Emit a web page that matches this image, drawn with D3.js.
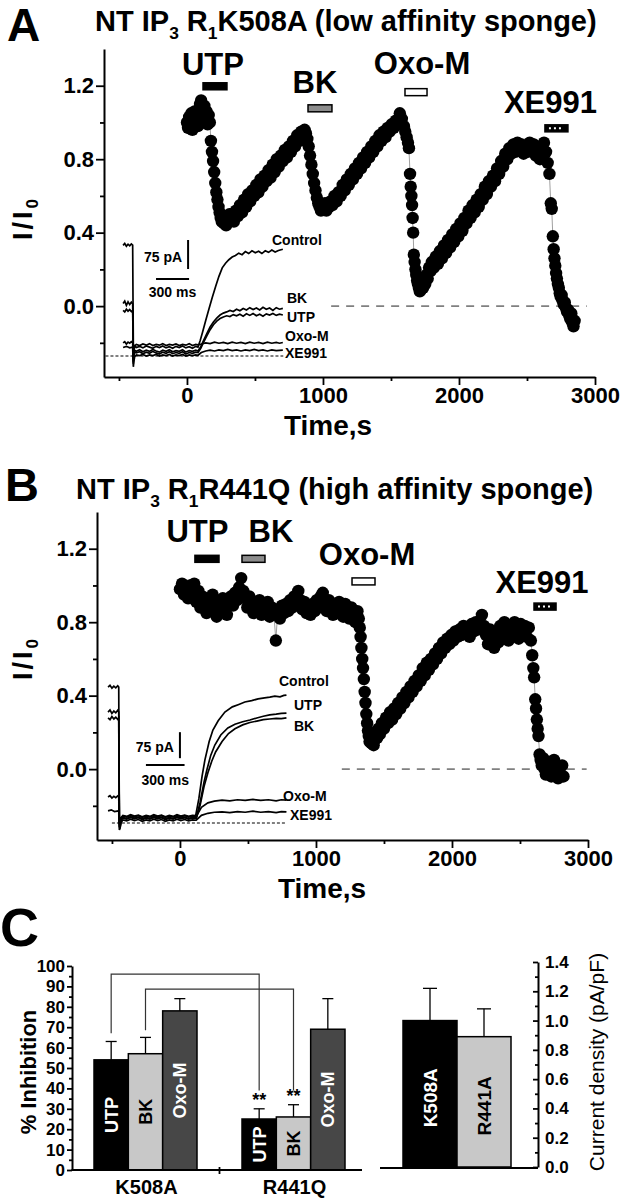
<!DOCTYPE html>
<html>
<head>
<meta charset="utf-8">
<script src="https://cdn.jsdelivr.net/npm/d3@7/dist/d3.min.js"></script>
<style>
html,body{margin:0;padding:0;background:#fff;}
svg{display:block;}
text{font-family:"Liberation Sans",Arial,Helvetica,sans-serif;font-weight:bold;fill:#000;}
</style>
</head>
<body>
<svg id="fig" width="625" height="1199"></svg>
<script>
// ---------------- DATA ----------------
// Panel A: normalized M-current I/I0 vs time (s)
const seriesA = [
[0,1.00],[8,0.97],[16,1.03],[24,0.99],[32,1.05],[40,0.96],[48,1.02],[56,1.06],[64,1.00],[72,1.04],[80,0.98],[88,1.07],[96,1.10],[104,1.12],[112,1.08],[120,1.05],[128,1.09],[136,1.02],[144,1.06],[152,0.99],[160,1.04],[168,1.00],
[176,0.90],[184,0.84],[192,0.79],[200,0.73],[208,0.67],[216,0.62],[224,0.58],[232,0.54],[240,0.51],[248,0.48],[256,0.46],[264,0.49],[272,0.45],[280,0.47],[288,0.44],[296,0.48],[304,0.46],[312,0.50],[320,0.47],
[330,0.50],[345,0.46],[360,0.52],[375,0.49],[390,0.55],[405,0.51],[420,0.58],[435,0.54],[450,0.61],[465,0.57],[480,0.63],[495,0.60],[510,0.66],[525,0.62],[540,0.69],[555,0.65],[570,0.71],[585,0.68],[600,0.74],[615,0.70],[630,0.77],[645,0.73],[660,0.80],[675,0.76],[690,0.82],[705,0.79],[720,0.85],[735,0.81],[750,0.87],[765,0.84],[780,0.90],[795,0.87],[810,0.93],[825,0.90],[840,0.95],[855,0.93],
[865,0.96],[875,0.94],[885,0.91],[895,0.87],[905,0.82],[915,0.77],[925,0.72],[935,0.67],[945,0.63],[955,0.59],[965,0.56],[975,0.54],[985,0.52],[995,0.55],[1005,0.53],[1015,0.56],[1025,0.52],[1035,0.55],[1045,0.54],
[1055,0.57],[1070,0.55],[1085,0.60],[1100,0.57],[1115,0.62],[1130,0.60],[1145,0.66],[1160,0.63],[1175,0.69],[1190,0.66],[1205,0.72],[1220,0.69],[1235,0.75],[1250,0.72],[1265,0.78],[1280,0.75],[1295,0.81],[1310,0.78],[1325,0.84],[1340,0.81],[1355,0.87],[1370,0.84],[1385,0.90],[1400,0.87],[1415,0.93],[1430,0.90],[1445,0.95],[1460,0.92],[1475,0.97],[1490,0.95],[1505,0.99],[1520,0.97],[1535,1.01],[1550,0.99],[1565,1.05],[1580,1.02],[1595,0.98],[1605,0.95],[1615,0.92],[1625,0.89],[1632,0.86],
[1640,0.72],[1645,0.65],[1650,0.60],[1655,0.55],[1659,0.48],[1663,0.40],[1668,0.28],[1674,0.24],[1680,0.20],[1686,0.17],[1692,0.14],[1698,0.12],[1705,0.10],[1712,0.08],[1720,0.09],[1728,0.12],[1736,0.10],[1744,0.14],[1752,0.12],[1760,0.17],[1770,0.15],[1780,0.21],[1790,0.19],
[1800,0.24],[1815,0.21],[1830,0.27],[1845,0.23],[1860,0.30],[1875,0.26],[1890,0.33],[1905,0.29],[1920,0.36],[1935,0.32],[1950,0.39],[1965,0.35],[1980,0.42],[1995,0.38],[2010,0.45],[2025,0.41],[2040,0.48],[2055,0.45],[2070,0.52],[2085,0.48],[2100,0.55],[2115,0.51],[2130,0.58],[2145,0.54],[2160,0.61],[2175,0.58],[2190,0.65],[2205,0.61],[2220,0.68],[2235,0.65],[2250,0.71],[2265,0.68],[2280,0.75],[2295,0.72],[2310,0.79],[2325,0.76],[2340,0.83],[2355,0.80],[2370,0.86],[2385,0.83],
[2400,0.88],[2415,0.84],[2430,0.89],[2445,0.85],[2460,0.88],[2475,0.83],[2490,0.87],[2505,0.84],[2520,0.89],[2535,0.85],[2550,0.88],[2565,0.82],[2580,0.86],[2595,0.80],[2610,0.87],[2625,0.89],[2640,0.84],[2652,0.78],
[2665,0.72],[2675,0.56],[2682,0.53],[2690,0.38],[2696,0.31],[2702,0.26],[2708,0.22],[2714,0.18],[2720,0.15],[2727,0.12],[2734,0.10],[2741,0.07],[2748,0.05],[2755,0.06],[2762,0.03],[2770,0.01],[2778,0.02],[2786,-0.01],[2794,-0.03],[2802,-0.02],[2810,-0.05],[2818,-0.07],[2826,-0.04],[2834,-0.09],[2842,-0.11],[2850,-0.08]
];
// Panel B
const seriesB = [
[0,0.98],[15,1.01],[30,0.95],[45,0.99],[60,0.93],[75,1.00],[90,0.96],[105,1.01],[120,0.91],[135,0.97],[150,0.88],[165,0.94],[180,0.90],[195,0.85],[210,0.92],[225,0.87],[240,0.95],[255,0.89],[270,0.83],[285,0.91],[300,0.86],[315,0.93],[330,0.88],[345,0.84],[360,0.90],[375,0.94],[390,0.89],[405,0.96],[420,0.92],[435,0.99],[450,1.04],[465,0.97],[480,0.93],[495,0.88],[510,0.94],[525,0.90],[540,0.85],[555,0.91],[570,0.87],[585,0.92],[600,0.84],[615,0.89],[630,0.86],[645,0.91],[660,0.83],[675,0.88],[690,0.85],[705,0.70],[720,0.87],[735,0.82],[750,0.89],[765,0.85],[780,0.90],[795,0.86],[810,0.92],[825,0.88],[840,0.94],[855,0.90],[870,0.97],[885,0.92],[900,0.87],[915,0.91],[930,0.85],[945,0.89],[960,0.84],[975,0.90],[990,0.86],[1005,0.92],[1020,0.88],[1035,0.94],[1050,0.96],[1065,0.90],[1080,0.86],[1095,0.92],[1110,0.88],[1125,0.84],[1140,0.89],[1155,0.85],[1170,0.91],[1185,0.87],[1200,0.83],[1215,0.90],[1230,0.86],[1245,0.82],[1260,0.88],[1275,0.84],[1290,0.80],[1305,0.86],
[1315,0.82],[1322,0.77],[1328,0.72],[1334,0.66],[1340,0.60],[1346,0.55],[1352,0.49],[1358,0.42],[1364,0.36],[1370,0.30],[1376,0.25],[1382,0.21],[1388,0.18],[1394,0.15],[1400,0.19],[1408,0.14],[1416,0.17],[1424,0.13],[1432,0.16],[1440,0.20],[1450,0.17],[1460,0.22],[1470,0.19],
[1485,0.25],[1500,0.22],[1515,0.28],[1530,0.25],[1545,0.31],[1560,0.27],[1575,0.33],[1590,0.30],[1605,0.36],[1620,0.33],[1635,0.39],[1650,0.36],[1665,0.42],[1680,0.39],[1695,0.45],[1710,0.42],[1725,0.48],[1740,0.45],[1755,0.51],[1770,0.48],[1785,0.55],[1800,0.51],[1815,0.58],[1830,0.54],[1845,0.60],[1860,0.57],[1875,0.63],[1890,0.60],[1905,0.66],[1920,0.63],[1935,0.69],[1950,0.66],[1965,0.71],[1980,0.68],[1995,0.73],[2010,0.70],[2025,0.75],[2040,0.72],[2055,0.76],[2070,0.73],[2085,0.78],[2100,0.74],[2115,0.77],[2130,0.72],[2145,0.79],[2160,0.75],[2175,0.80],[2190,0.76],[2205,0.79],[2220,0.84],[2235,0.78],[2250,0.73],[2265,0.68],[2280,0.76],[2295,0.71],[2310,0.66],[2325,0.74],[2340,0.69],[2355,0.78],[2370,0.72],[2385,0.80],[2400,0.75],[2415,0.70],[2430,0.78],[2445,0.73],[2460,0.80],[2475,0.76],[2490,0.71],[2505,0.79],[2520,0.74],[2535,0.78],[2550,0.72],[2565,0.77],
[2580,0.70],[2590,0.62],[2598,0.55],[2604,0.50],[2612,0.38],[2618,0.33],[2624,0.27],[2630,0.22],[2636,0.18],[2644,0.08],[2652,0.05],[2660,0.02],[2670,0.06],[2680,0.00],[2690,-0.03],[2700,0.04],[2710,-0.01],[2720,0.03],[2730,-0.04],[2740,0.00],[2750,0.05],[2760,-0.02],[2770,0.02],[2780,-0.05],[2790,0.01],[2800,-0.03],[2810,0.02],[2820,-0.04]
];
// Drug applications (s)
const stimNames = ["UTP","BK","Oxo-M","XE991"];
const stimStartA = [118, 890, 1603, 2632];
const stimEndA   = [294, 1066, 1765, 2801];
const stimStartB = [110, 456, 1265, 2603];
const stimEndB   = [287, 625, 1434, 2765];
// Zero-current reference (dashed) spans (s)
const zeroSpanA = [1060, 2940];
const zeroSpanB = [1190, 2990];
// Axis ticks
const timeTicks = [0, 1000, 2000, 3000];
const timeMinor = [-500, 500, 1500, 2500];
const ratioTicks = [0.0, 0.4, 0.8, 1.2];
const ratioMinor = [-0.2, 0.2, 0.6, 1.0];

// Inset current traces (ms, pA)
const ctrlA = [[-90,286],[-75,291],[-60,284],[-45,289],[-30,285],[-15,290],[-3,287],[0,150],[3,30],[8,18],[15,26],[30,22],[60,25],[90,21],[120,26],[150,23],[180,20],[210,25],[240,22],[270,26],[300,21],[330,24],[360,20],[390,25],[420,22],[450,26],[480,21],[510,24],[540,20],[570,25],[590,23],[610,40],[630,60],[660,92],[690,122],[720,152],[750,180],[780,206],[810,228],[840,240],[870,249],[900,256],[930,260],[960,266],[990,262],[1020,270],[1050,265],[1080,272],[1110,267],[1140,271],[1170,265],[1200,272],[1230,268],[1260,274],[1290,269],[1320,273],[1360,276]];
const bkA = [[-90,136],[-75,142],[-60,131],[-45,140],[-30,133],[-15,139],[-3,135],[0,70],[3,-10],[8,5],[15,15],[30,12],[60,16],[90,11],[120,15],[150,12],[180,17],[210,13],[240,10],[270,15],[300,12],[330,16],[360,11],[390,14],[420,12],[450,16],[480,10],[510,14],[540,12],[570,15],[590,13],[615,24],[640,40],[670,58],[700,75],[730,88],[760,98],[790,106],[820,111],[850,114],[880,118],[910,115],[940,121],[970,117],[1000,123],[1030,119],[1060,125],[1090,120],[1120,124],[1150,119],[1180,126],[1210,121],[1240,124],[1270,118],[1300,125],[1330,121],[1360,123]];
const utpA = [[-90,118],[-75,114],[-60,121],[-45,116],[-30,120],[-15,115],[-3,118],[0,60],[3,-15],[8,2],[15,10],[30,8],[60,11],[90,6],[120,10],[150,7],[180,12],[210,8],[240,5],[270,10],[300,7],[330,11],[360,6],[390,9],[420,7],[450,11],[480,5],[510,9],[540,7],[570,10],[590,9],[615,20],[640,35],[670,52],[700,68],[730,81],[760,90],[790,97],[820,101],[850,104],[880,102],[910,107],[940,104],[970,108],[1000,103],[1030,109],[1060,105],[1090,110],[1120,104],[1150,108],[1180,103],[1210,109],[1240,106],[1270,110],[1300,105],[1330,108],[1360,106]];
const oxoA = [[-90,34],[-75,37],[-60,31],[-45,36],[-30,33],[-15,37],[-3,34],[0,10],[3,-20],[8,10],[15,26],[30,30],[60,27],[90,31],[120,28],[150,32],[180,27],[210,30],[240,28],[270,32],[300,27],[330,30],[360,28],[390,31],[420,27],[450,30],[480,28],[510,32],[540,27],[570,30],[590,29],[620,31],[660,34],[700,32],[740,36],[780,33],[820,35],[860,32],[900,36],[940,33],[980,35],[1020,32],[1060,36],[1100,33],[1140,35],[1180,32],[1220,36],[1260,33],[1300,35],[1330,33],[1360,35]];
const xeA = [[-90,22],[-60,25],[-30,21],[-3,23],[0,-5],[3,-28],[8,-14],[15,-2],[30,3],[60,1],[90,4],[120,0],[150,3],[180,1],[210,4],[240,0],[270,3],[300,1],[330,4],[360,0],[390,3],[420,1],[450,4],[480,0],[510,3],[540,1],[570,3],[590,2],[620,9],[660,13],[700,15],[740,13],[780,16],[820,14],[860,17],[900,14],[940,16],[980,13],[1020,16],[1060,14],[1100,17],[1140,14],[1180,16],[1220,13],[1260,16],[1300,14],[1360,15]];
const ctrlB = [[-85,392],[-70,397],[-55,389],[-40,395],[-25,390],[-10,396],[-2,392],[0,200],[3,20],[8,-10],[15,15],[30,22],[60,19],[90,24],[120,20],[150,23],[180,18],[210,22],[240,19],[270,24],[300,20],[330,23],[360,18],[390,22],[420,19],[450,24],[480,20],[510,23],[540,19],[570,22],[595,21],[620,70],[645,135],[667,182],[700,235],[729,268],[770,295],[822,320],[880,335],[930,342],[977,349],[1030,353],[1080,358],[1130,361],[1171,363],[1210,366],[1250,364],[1280,368],[1300,369]];
const utpB = [[-85,320],[-70,326],[-55,316],[-40,323],[-25,318],[-10,325],[-2,320],[0,150],[3,10],[8,-12],[15,10],[30,16],[60,13],[90,18],[120,14],[150,17],[180,12],[210,16],[240,13],[270,18],[300,14],[330,17],[360,12],[390,16],[420,13],[450,18],[480,14],[510,17],[540,13],[570,16],[600,15],[630,60],[660,118],[682,153],[712,195],[744,225],[790,254],[845,274],[900,285],[960,292],[1016,297],[1070,303],[1120,308],[1170,312],[1220,314],[1260,316],[1300,317]];
const bkB = [[-85,303],[-70,298],[-55,307],[-40,300],[-25,305],[-10,299],[-2,303],[0,140],[3,5],[8,-15],[15,8],[30,14],[60,11],[90,16],[120,12],[150,15],[180,10],[210,14],[240,11],[270,16],[300,12],[330,15],[360,10],[390,14],[420,11],[450,16],[480,12],[510,15],[540,11],[570,14],[600,13],[630,52],[660,105],[690,145],[720,178],[750,205],[800,235],[850,258],[900,272],[960,283],[1016,290],[1070,294],[1120,298],[1170,300],[1220,302],[1260,301],[1300,303]];
const oxoB = [[-85,75],[-70,79],[-55,72],[-40,77],[-25,73],[-10,78],[-2,75],[0,30],[3,-12],[8,-5],[15,15],[30,20],[60,17],[90,22],[120,18],[150,21],[180,16],[210,20],[240,17],[270,22],[300,18],[330,21],[360,16],[390,20],[420,17],[450,22],[480,18],[510,21],[540,17],[570,20],[600,19],[640,45],[690,58],[740,63],[800,66],[860,64],[920,67],[980,65],[1040,68],[1100,65],[1160,67],[1220,64],[1260,67],[1300,66]];
const xeB = [[-85,35],[-60,38],[-35,33],[-2,35],[0,0],[3,-20],[8,-16],[15,0],[30,9],[60,6],[90,11],[120,7],[150,10],[180,5],[210,9],[240,6],[270,11],[300,7],[330,10],[360,5],[390,9],[420,6],[450,11],[480,7],[510,10],[540,6],[570,9],[600,8],[640,22],[690,28],[740,31],[800,32],[860,30],[920,33],[980,31],[1040,34],[1100,31],[1160,33],[1220,30],[1260,33],[1300,32]];

// Panel C: % inhibition
const groupsC = ["K508A","R441Q"];
const agonistsC = ["UTP","BK","Oxo-M"];
const inhibK508A = [54, 57, 78];
const inhibK508A_sem = [9, 8, 6];
const inhibR441Q = [25, 26, 69];
const inhibR441Q_sem = [5, 6, 15];
const inhibTicks = [0,10,20,30,40,50,60,70,80,90,100];
const inhibMinor = [5,15,25,35,45,55,65,75,85,95];
// Significance brackets (levels in % units)
const bracketAgonists = ["UTP","BK"];
const bracketTop = [96, 88.7];
const bracketStart = [67, 68.5];
const bracketEnd = [39, 39];
// Current density
const densityCats = ["K508A","R441A"];
const densityMean = [1.00, 0.89];
const densitySem = [0.22, 0.19];
const densityTicks = [0,0.2,0.4,0.6,0.8,1.0,1.2,1.4];
const densityMinor = [0.1,0.3,0.5,0.7,0.9,1.1,1.3];

// ---------------- DRAWING ----------------
const svg = d3.select("#fig");
const FONT = '"Liberation Sans",Arial,Helvetica,sans-serif';

function styleAxis(g, fs) {
  g.attr("font-family", FONT);
  g.select(".domain").attr("stroke", "#000").attr("stroke-width", 2);
  g.selectAll(".tick line").attr("stroke", "#000").attr("stroke-width", 1.8);
  g.selectAll(".tick text").attr("font-size", fs).attr("font-weight", "bold").attr("fill", "#000");
}

function richText(x, y, parts, fs, anchor) {
  const t = svg.append("text").attr("x", x).attr("y", y).attr("font-size", fs).attr("text-anchor", anchor || "start");
  let shifted = false;
  parts.forEach(p => {
    const ts = t.append("tspan").text(p[0]);
    if (p[1]) { ts.attr("font-size", fs * 0.6).attr("dy", fs * 0.28); shifted = true; }
    else if (shifted) { ts.attr("dy", -fs * 0.28); shifted = false; }
  });
  return t;
}

function timePanel(o) {
  const x = d3.scaleLinear().domain([o.t0, 3000]).range([o.x0, o.x1]);
  const y = d3.scaleLinear().domain([-0.386, 1.40]).range([o.yb, o.yt]);
  const g = svg.append("g");

  g.append("line").attr("x1", x(o.zero[0])).attr("x2", x(o.zero[1]))
    .attr("y1", y(0)).attr("y2", y(0))
    .attr("stroke", "#808080").attr("stroke-width", 1.6).attr("stroke-dasharray", "8,7");

  g.append("path").datum(o.data)
    .attr("d", d3.line().x(d => x(d[0])).y(d => y(d[1])))
    .attr("fill", "none").attr("stroke", "#a0a0a0").attr("stroke-width", 1);
  g.selectAll("circle.pt").data(o.data).join("circle").attr("class", "pt")
    .attr("cx", d => x(d[0])).attr("cy", d => y(d[1])).attr("r", 6.2).attr("fill", "#000");

  const fills = ["#000", "#8c8c8c", "#fff", "#000"];
  stimNames.forEach((n, i) => {
    const lv = y(o.levels[i]);
    g.append("rect").attr("x", x(o.s0[i])).attr("y", lv - 3.5)
      .attr("width", x(o.s1[i]) - x(o.s0[i])).attr("height", 7)
      .attr("fill", fills[i]).attr("stroke", "#000").attr("stroke-width", 1.5);
    if (n === "XE991") {
      g.append("line").attr("x1", x(o.s0[i]) + 4).attr("x2", x(o.s1[i]) - 4)
        .attr("y1", lv).attr("y2", lv).attr("stroke", "#fff").attr("stroke-width", 2).attr("stroke-dasharray", "2,3");
    }
    g.append("text").attr("x", (x(o.s0[i]) + x(o.s1[i])) / 2 + o.ldx[i])
      .attr("y", lv - 3.5 - o.lgap[i]).attr("text-anchor", "middle")
      .attr("font-size", 31).text(n);
  });

  const ax = g.append("g").attr("transform", `translate(0,${o.yb})`)
    .call(d3.axisBottom(x).tickValues(timeTicks).tickSize(8).tickSizeOuter(0).tickPadding(2).tickFormat(d3.format("d")));
  styleAxis(ax, 22);
  const axm = g.append("g").attr("transform", `translate(0,${o.yb})`)
    .call(d3.axisBottom(x).tickValues(timeMinor).tickSize(4).tickSizeOuter(0).tickFormat(""));
  styleAxis(axm, 10); axm.select(".domain").remove();
  const ay = g.append("g").attr("transform", `translate(${o.x0},0)`)
    .call(d3.axisLeft(y).tickValues(ratioTicks).tickSize(8).tickSizeOuter(0).tickPadding(2).tickFormat(d3.format(".1f")));
  styleAxis(ay, 22);
  const aym = g.append("g").attr("transform", `translate(${o.x0},0)`)
    .call(d3.axisLeft(y).tickValues(ratioMinor).tickSize(4).tickSizeOuter(0).tickFormat(""));
  styleAxis(aym, 10); aym.select(".domain").remove();

  g.append("text").attr("x", o.timeX).attr("y", o.yb + 58).attr("text-anchor", "middle")
    .attr("font-size", 28).text("Time,s");
  const yl = g.append("text").attr("transform", `translate(${o.ylx},${o.yly}) rotate(-90)`)
    .attr("text-anchor", "middle").attr("font-size", 27).attr("letter-spacing", 3);
  yl.append("tspan").text("I/I");
  yl.append("tspan").text("0").attr("font-size", 17).attr("dy", 6);

  const xi = d3.scaleLinear().domain([0, 590]).range([o.ix0, o.ix1]);
  const yi = d3.scaleLinear().domain([0, 75]).range([o.iy0, o.iy0 - o.i75]);
  g.append("line").attr("x1", xi(o.idash[0])).attr("x2", xi(o.idash[1]))
    .attr("y1", yi(0)).attr("y2", yi(0)).attr("stroke", "#000").attr("stroke-width", 1).attr("stroke-dasharray", "3,2");
  const ln = d3.line().x(d => xi(d[0])).y(d => yi(d[1]));
  o.traces.forEach(tr => {
    g.append("path").datum(tr).attr("d", ln).attr("fill", "none").attr("stroke", "#000").attr("stroke-width", 1.7);
  });
  g.append("line").attr("x1", xi(o.sbT)).attr("x2", xi(o.sbT))
    .attr("y1", yi(o.sbP)).attr("y2", yi(o.sbP - 75)).attr("stroke", "#000").attr("stroke-width", 2);
  g.append("line").attr("x1", xi(o.sbT2)).attr("x2", xi(o.sbT2 + 300))
    .attr("y1", yi(o.sbP2)).attr("y2", yi(o.sbP2)).attr("stroke", "#000").attr("stroke-width", 2);
  g.append("text").attr("x", xi(o.sbT) - 6).attr("y", o.pALabelY).attr("text-anchor", "end").attr("font-size", 14).text("75 pA");
  g.append("text").attr("x", (xi(o.sbT2) + xi(o.sbT2 + 300)) / 2).attr("y", o.msLabelY).attr("text-anchor", "middle").attr("font-size", 14).text("300 ms");
  o.tlabels.forEach(l => {
    g.append("text").attr("x", l[1]).attr("y", l[2]).attr("font-size", 14).text(l[0]);
  });
}

// Panel letters and titles
svg.append("text").attr("x", 7).attr("y", 41).attr("font-size", 46).text("A");
richText(95, 31, [["NT IP",0],["3",1],[" R",0],["1",1],["K508A (low affinity sponge)",0]], 29);
svg.append("text").attr("x", 5).attr("y", 501).attr("font-size", 47).text("B");
richText(76, 499, [["NT IP",0],["3",1],[" R",0],["1",1],["R441Q (high affinity sponge)",0]], 29);
svg.append("text").attr("x", 0).attr("y", 946).attr("font-size", 54).text("C");

timePanel({
  t0: -610, x0: 104, x1: 595, yb: 377, yt: 49, data: seriesA, zero: zeroSpanA,
  s0: stimStartA, s1: stimEndA, levels: [1.197, 1.077, 1.165, 0.968],
  ldx: [-2, -5, 6, -6], lgap: [8, 12, 15, 12],
  timeX: 328, ylx: 32, yly: 218,
  ix0: 133, ix1: 198, iy0: 356, i75: 29, idash: [-250, 1364],
  traces: [ctrlA, bkA, utpA, oxoA, xeA],
  sbT: 500, sbP: 300, sbT2: 209, sbP2: 199, pALabelY: 262, msLabelY: 297,
  tlabels: [["Control", 272, 245], ["BK", 287, 303], ["UTP", 287, 322], ["Oxo-M", 285, 341], ["XE991", 285, 358]]
});
timePanel({
  t0: -610, x0: 97, x1: 588, yb: 840, yt: 512, data: seriesB, zero: zeroSpanB,
  s0: stimStartB, s1: stimEndB, levels: [1.145, 1.145, 1.022, 0.885],
  ldx: [-9.5, 17.5, 3.5, -3], lgap: [13, 13, 13, 10],
  timeX: 322, ylx: 32, yly: 658,
  ix0: 119, ix1: 195, iy0: 823, i75: 26, idash: [-55, 1290],
  traces: [ctrlB, utpB, bkB, oxoB, xeB],
  sbT: 473, sbP: 262, sbT2: 209, sbP2: 167, pALabelY: 752, msLabelY: 785,
  tlabels: [["Control", 279, 686], ["UTP", 294, 710], ["BK", 294, 731], ["Oxo-M", 283, 801], ["XE991", 290, 820]]
});

// ---------------- Panel C ----------------
const yC = d3.scaleLinear().domain([0, 100]).range([1170, 966]);
const xG = d3.scaleBand().domain(groupsC).range([71.5, 367.5]);
const xAg = d3.scaleBand().domain(agonistsC).range([0, 103]);
const barFill = {"UTP": "#000", "BK": "#c8c8c8", "Oxo-M": "#474747"};
const txtFill = {"UTP": "#fff", "BK": "#000", "Oxo-M": "#fff"};
const inhib = {"K508A": [inhibK508A, inhibK508A_sem], "R441Q": [inhibR441Q, inhibR441Q_sem]};
const barX = (g, a) => xG(g) + (xG.bandwidth() - 103) / 2 + xAg(a);
const cG = svg.append("g");

bracketAgonists.forEach((a, i) => {
  const xl = barX("K508A", a) + xAg.bandwidth() / 2;
  const xr = barX("R441Q", a) + xAg.bandwidth() / 2;
  cG.append("path").attr("d", `M${xl},${yC(bracketStart[i])}V${yC(bracketTop[i])}H${xr}V${yC(bracketEnd[i])}`)
    .attr("fill", "none").attr("stroke", "#333").attr("stroke-width", 1.2);
});

groupsC.forEach(gname => {
  const [vals, sems] = inhib[gname];
  agonistsC.forEach((a, i) => {
    const bx = barX(gname, a), bw = xAg.bandwidth(), cx = bx + bw / 2;
    cG.append("line").attr("x1", cx).attr("x2", cx).attr("y1", yC(vals[i])).attr("y2", yC(vals[i] + sems[i]))
      .attr("stroke", "#000").attr("stroke-width", 1.3);
    cG.append("line").attr("x1", cx - 5.5).attr("x2", cx + 5.5).attr("y1", yC(vals[i] + sems[i])).attr("y2", yC(vals[i] + sems[i]))
      .attr("stroke", "#000").attr("stroke-width", 1.3);
    cG.append("rect").attr("x", bx).attr("y", yC(vals[i])).attr("width", bw).attr("height", yC(0) - yC(vals[i]))
      .attr("fill", barFill[a]).attr("stroke", "#000").attr("stroke-width", 1.5);
    cG.append("text").attr("transform", `translate(${cx},${(yC(vals[i]) + yC(0)) / 2}) rotate(-90)`)
      .attr("text-anchor", "middle").attr("dy", "0.36em").attr("font-size", 18)
      .style("fill", txtFill[a]).text(a);
    if (gname === "R441Q" && a !== "Oxo-M") {
      cG.append("text").attr("x", cx).attr("y", yC(vals[i] + sems[i]) - 3).attr("text-anchor", "middle")
        .attr("font-size", 18).text("**");
    }
  });
});
const axC = cG.append("g").attr("transform", "translate(0,1170)")
  .call(d3.axisBottom(xG).tickValues([]).tickSizeOuter(0));
styleAxis(axC, 10);
axC.select(".domain").attr("d", "M71.5,0H362");
cG.append("line").attr("x1", xG.step() + 71.5).attr("x2", xG.step() + 71.5).attr("y1", 1167).attr("y2", 1174)
  .attr("stroke", "#000").attr("stroke-width", 1.8);
groupsC.forEach(gname => {
  cG.append("text").attr("x", xG(gname) + xG.bandwidth() / 2 + 1).attr("y", 1194).attr("text-anchor", "middle")
    .attr("font-size", 20).text(gname);
});
const ayC = cG.append("g").attr("transform", "translate(72,0)")
  .call(d3.axisLeft(yC).tickValues(inhibTicks).tickSize(5).tickSizeOuter(0).tickPadding(2));
styleAxis(ayC, 17);
const ayCm = cG.append("g").attr("transform", "translate(72,0)")
  .call(d3.axisLeft(yC).tickValues(inhibMinor).tickSize(3).tickSizeOuter(0).tickFormat(""));
styleAxis(ayCm, 10); ayCm.select(".domain").remove();
cG.append("text").attr("transform", "translate(36,1072) rotate(-90)").attr("text-anchor", "middle")
  .attr("font-size", 22).text("% Inhibition");

const yD = d3.scaleLinear().domain([0, 1.4]).range([1167, 962]);
const xD = d3.scaleBand().domain(densityCats).range([403, 511]);
const dFill = ["#000", "#c8c8c8"], dTxt = ["#fff", "#000"];
densityCats.forEach((c, i) => {
  const bx = xD(c), bw = xD.bandwidth(), cx = bx + bw / 2;
  cG.append("line").attr("x1", cx).attr("x2", cx).attr("y1", yD(densityMean[i])).attr("y2", yD(densityMean[i] + densitySem[i]))
    .attr("stroke", "#000").attr("stroke-width", 1.3);
  cG.append("line").attr("x1", cx - 7).attr("x2", cx + 7).attr("y1", yD(densityMean[i] + densitySem[i])).attr("y2", yD(densityMean[i] + densitySem[i]))
    .attr("stroke", "#000").attr("stroke-width", 1.3);
  cG.append("rect").attr("x", bx).attr("y", yD(densityMean[i])).attr("width", bw).attr("height", yD(0) - yD(densityMean[i]))
    .attr("fill", dFill[i]).attr("stroke", "#000").attr("stroke-width", 1.5);
  cG.append("text").attr("transform", `translate(${cx},${(yD(densityMean[i]) + yD(0)) / 2 + 4}) rotate(-90)`)
    .attr("text-anchor", "middle").attr("dy", "0.36em").attr("font-size", 19).style("fill", dTxt[i]).text(c);
});
cG.append("line").attr("x1", 380).attr("x2", 538).attr("y1", 1168).attr("y2", 1168).attr("stroke", "#000").attr("stroke-width", 2);
const ayD = cG.append("g").attr("transform", "translate(538,0)")
  .call(d3.axisRight(yD).tickValues(densityTicks).tickSize(-5).tickSizeOuter(0).tickPadding(7).tickFormat(d3.format(".1f")));
styleAxis(ayD, 17);
const ayDm = cG.append("g").attr("transform", "translate(538,0)")
  .call(d3.axisRight(yD).tickValues(densityMinor).tickSize(-3).tickSizeOuter(0).tickFormat(""));
styleAxis(ayDm, 10); ayDm.select(".domain").remove();
cG.append("text").attr("transform", "translate(604,1062) rotate(-90)").attr("text-anchor", "middle")
  .style("font-weight", "normal").attr("font-size", 21).text("Current density (pA/pF)");
</script>
</body>
</html>
